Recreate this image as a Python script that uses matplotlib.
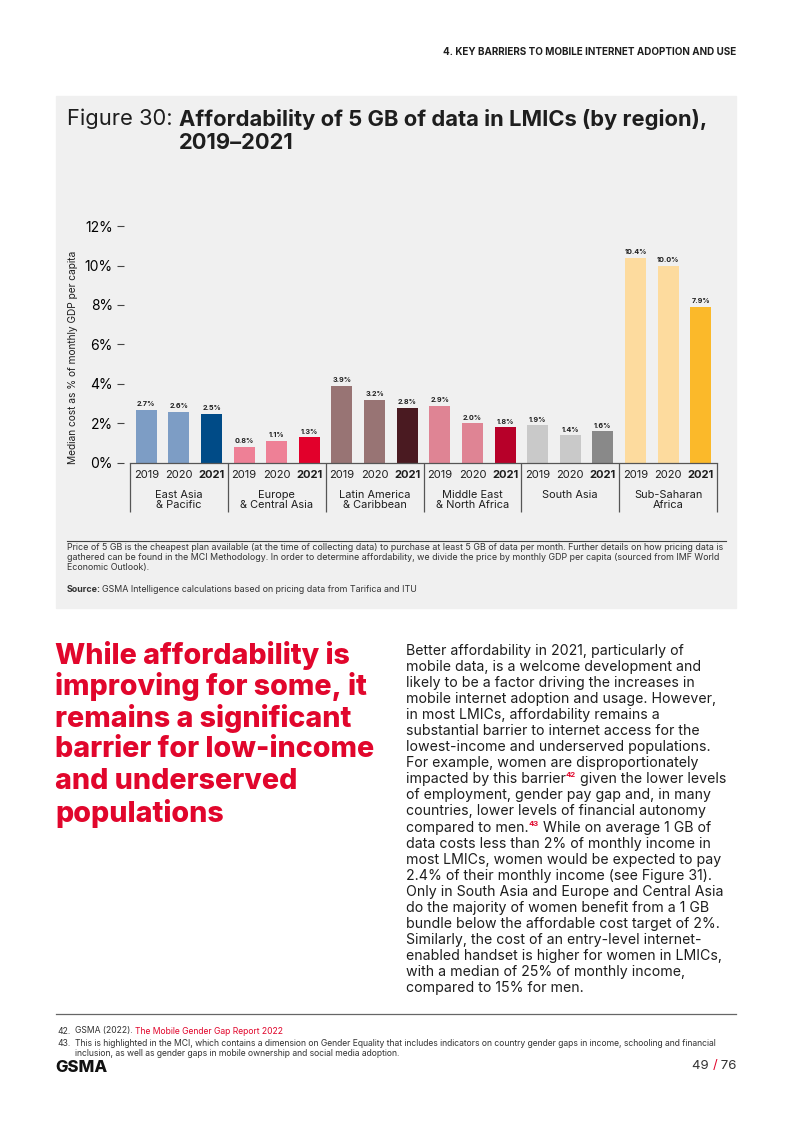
import matplotlib
matplotlib.use('Agg')
import matplotlib.pyplot as plt
from matplotlib.patches import Rectangle
from matplotlib.transforms import IdentityTransform

# ================================
# Data
# ================================
regions = ["East Asia\n& Pacific", "Europe\n& Central Asia", "Latin America\n& Caribbean",
           "Middle East\n& North Africa", "South Asia", "Sub-Saharan\nAfrica"]
years = ["2019", "2020", "2021"]
cost_2019 = [2.7, 0.8, 3.9, 2.9, 1.9, 10.4]
cost_2020 = [2.6, 1.1, 3.2, 2.0, 1.4, 10.0]
cost_2021 = [2.5, 1.3, 2.8, 1.8, 1.6, 7.9]
light_colors = ['#7d9dc5', '#ee8096', '#987474', '#df8494', '#c9c9c9', '#fddb9e']
dark_colors = ['#004b87', '#e2002b', '#4a1a21', '#b70029', '#898989', '#fbb92a']
yticks = [0, 2, 4, 6, 8, 10, 12]

RED = '#e1062c'
TXT = '#1e1e1e'

plt.rcParams['font.family'] = ['Inter', 'DejaVu Sans']

W, H = 793, 1122
fig = plt.figure(figsize=(W / 100, H / 100), dpi=100)
fig.patch.set_facecolor('white')
PX = IdentityTransform()


def put(x, y, s, **kw):
    # place text in page pixels (origin top-left)
    return fig.text(x, H - y, s, transform=PX, **kw)


def runs(x, y, parts, **kw):
    # draw text pieces one after another on the same line
    r = fig.canvas.get_renderer()
    for s, props in parts:
        opts = dict(kw)
        opts.update(props)
        dy = opts.pop('rise', 0)
        gap = opts.pop('gap', 0)
        t = put(x + gap, y - dy, s, **opts)
        x = t.get_window_extent(r).x1
    return x


# ================================
# Header + grey panel
# ================================
put(736, 52, "4. KEY BARRIERS TO MOBILE INTERNET ADOPTION AND USE", ha='right', va='center',
    fontsize=7.1, fontweight='bold', color=TXT)
fig.patches.append(Rectangle((56, H - 608), 680, 512, transform=PX, color='#f0f0f0', zorder=-5))

r = fig.canvas.get_renderer()
t = put(67, 119, "Figure 30: ", ha='left', va='center', fontsize=15.8, color=TXT)
bx = t.get_window_extent(r).x1
put(bx, 119, "Affordability of 5 GB of data in LMICs (by region),", ha='left', va='center',
    fontsize=15.8, fontweight='bold', color=TXT)
put(bx, 143, "2019–2021", ha='left', va='center', fontsize=15.8, fontweight='bold', color=TXT)

# ================================
# Chart
# ================================
ax = fig.add_axes([130 / W, 1 - 463 / H, 587 / W, 237 / H])
ax.set_facecolor('none')
ax.set_xlim(0, len(regions))
ax.set_ylim(0, 12)

bar_w = 0.215
xpos, xlab = [], []
for g in range(len(regions)):
    vals = [cost_2019[g], cost_2020[g], cost_2021[g]]
    cols = [light_colors[g], light_colors[g], dark_colors[g]]
    for j, v in enumerate(vals):
        x = g + (j + 0.5) / 3
        ax.bar(x, v, width=bar_w, color=cols[j], zorder=2)
        ax.annotate(f"{v:.1f}%", (x, v), xytext=(0, 2), textcoords='offset points',
                    ha='center', va='bottom', fontsize=5.2, fontweight='bold', color=TXT)
        xpos.append(x)
        xlab.append(years[j])

ax.set_xticks(xpos)
ax.set_xticklabels(xlab, fontsize=8, color=TXT)
for lab in ax.get_xticklabels():
    if lab.get_text() == "2021":
        lab.set_fontweight('bold')
ax.tick_params(axis='x', length=0, pad=5)

ax.set_yticks(yticks)
ax.set_yticklabels([f"{v}%" for v in yticks], fontsize=6.9, color=TXT)
ax.tick_params(axis='y', length=5, width=0.8, color='#444', pad=3)
ax.spines['left'].set_position(('outward', 4.5))
ax.spines['left'].set_visible(False)
ax.spines['top'].set_visible(False)
ax.spines['right'].set_visible(False)
ax.spines['bottom'].set_color('#555')
ax.spines['bottom'].set_linewidth(0.9)

# group dividers and region names
ax.vlines(range(len(regions) + 1), -2.48, 0, color='#555', linewidth=0.9, clip_on=False)
for g, name in enumerate(regions):
    ax.text(g + 0.5, -1.38, name, ha='center', va='top', fontsize=7.9, color=TXT,
            linespacing=1.0)

put(73, 357, "Median cost as % of monthly GDP per capita", rotation=90, ha='center', va='center',
    fontsize=7.3, color=TXT)

# ================================
# Notes
# ================================
fig.lines.append(plt.Line2D([67, 726], [H - 541, H - 541], transform=PX, color='#444', linewidth=0.8))
notes = [
    "Price of 5 GB is the cheapest plan available (at the time of collecting data) to purchase at least 5 GB of data per month. Further details on how pricing data is",
    "gathered can be found in the MCI Methodology. In order to determine affordability, we divide the price by monthly GDP per capita (sourced from IMF World",
    "Economic Outlook).",
]
for i, s in enumerate(notes):
    put(67, 548 + i * 9.8, s, ha='left', va='center', fontsize=6.4, color='#333')
runs(67, 589, [("Source:", {'fontweight': 'bold'}),
               ("GSMA Intelligence calculations based on pricing data from Tarifica and ITU", {'gap': 1})],
     ha='left', va='center', fontsize=6.4, color='#333')

# ================================
# Heading + body
# ================================
heading = ["While affordability is", "improving for some, it", "remains a significant",
           "barrier for low-income", "and underserved", "populations"]
for i, s in enumerate(heading):
    put(55, 655 + i * 31.6, s, ha='left', va='center', fontsize=20.6, fontweight='heavy', color=RED)

body = [
    "Better affordability in 2021, particularly of",
    "mobile data, is a welcome development and",
    "likely to be a factor driving the increases in",
    "mobile internet adoption and usage. However,",
    "in most LMICs, affordability remains a",
    "substantial barrier to internet access for the",
    "lowest-income and underserved populations.",
    "For example, women are disproportionately",
    ["impacted by this barrier", "42", " given the lower levels"],
    "of employment, gender pay gap and, in many",
    "countries, lower levels of financial autonomy",
    ["compared to men.", "43", " While on average 1 GB of"],
    "data costs less than 2% of monthly income in",
    "most LMICs, women would be expected to pay",
    "2.4% of their monthly income (see Figure 31).",
    "Only in South Asia and Europe and Central Asia",
    "do the majority of women benefit from a 1 GB",
    "bundle below the affordable cost target of 2%.",
    "Similarly, the cost of an entry-level internet-",
    "enabled handset is higher for women in LMICs,",
    "with a median of 25% of monthly income,",
    "compared to 15% for men.",
]
for i, s in enumerate(body):
    y = 651 + i * 16.05
    if isinstance(s, list):
        runs(406, y, [(s[0], {}),
                      (s[1], {'fontsize': 5.5, 'fontweight': 'bold', 'color': RED, 'rise': 4}),
                      (s[2], {})],
             ha='left', va='center', fontsize=10.2, color=TXT)
    else:
        put(406, y, s, ha='left', va='center', fontsize=10.2, color=TXT)

# ================================
# Footnotes + footer
# ================================
fig.lines.append(plt.Line2D([56, 736], [H - 1014, H - 1014], transform=PX, color='#666', linewidth=0.9))
put(57, 1031, "42.", ha='left', va='center', fontsize=6.2, color='#333')
runs(75, 1031, [("GSMA (2022). ", {}),
                ("The Mobile Gender Gap Report 2022", {'color': RED})],
     ha='left', va='center', fontsize=6.2, color='#333')
put(57, 1044, "43.", ha='left', va='center', fontsize=6.2, color='#333')
put(75, 1044, "This is highlighted in the MCI, which contains a dimension on Gender Equality that includes indicators on country gender gaps in income, schooling and financial",
    ha='left', va='center', fontsize=6.2, color='#333')
put(75, 1054, "inclusion, as well as gender gaps in mobile ownership and social media adoption.",
    ha='left', va='center', fontsize=6.2, color='#333')

put(55, 1067, "GSMA", ha='left', va='center', fontsize=12, fontweight='heavy', color='#111')
runs(692, 1066, [("49 ", {}), ("/", {'color': RED}), (" 76", {})],
     ha='left', va='center', fontsize=9.5, color='#333')

fig.savefig("out.png", dpi=100)
